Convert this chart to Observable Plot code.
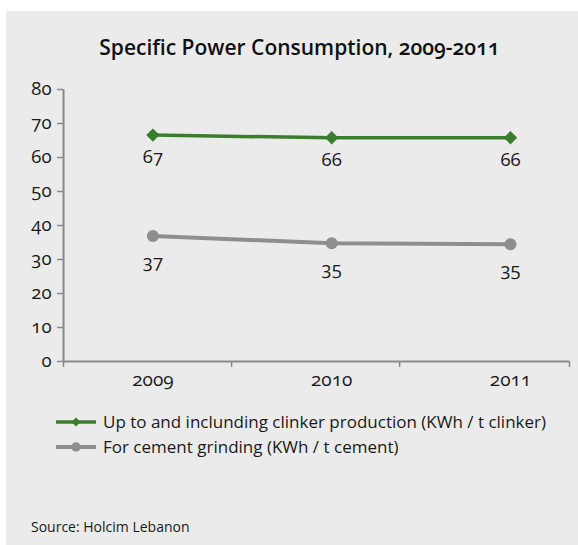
<!DOCTYPE html>
<html>
<head>
<meta charset="utf-8">
<script src="https://cdn.jsdelivr.net/npm/d3@7"></script>
<script src="https://cdn.jsdelivr.net/npm/@observablehq/plot@0.6"></script>
<style>
  html, body { margin: 0; padding: 0; background: #ffffff; }
  body { width: 578px; height: 545px; position: relative; overflow: hidden;
         font-family: "Open Sans", sans-serif; font-variant-numeric: oldstyle-nums; color: #1a1a1a; }
  #panel { position: absolute; left: 6px; top: 11px; width: 572px; height: 534px; background: #ebebeb; }
  #title { position: absolute; left: 0; top: 22px; width: 587px; text-align: center;
           font-size: 21px; font-weight: 600; color: #111; white-space: nowrap; }
  #chart { position: absolute; left: 0; top: 0; }
  #chart svg, #chart svg * { font-variant-numeric: oldstyle-nums !important; font-family: "Open Sans", sans-serif !important; }
  #legend { position: absolute; left: 50px; top: 398px; font-size: 17px; }
  .row { display: flex; align-items: center; height: 25px; white-space: nowrap; }
  .row svg { margin-right: 7px; }
  #source { position: absolute; left: 25px; top: 507px; font-size: 14px; line-height: 18px; color: #1a1a1a; }
</style>
</head>
<body>
<div id="panel">
  <div id="title"></div>
  <div id="chart"></div>
  <div id="legend"></div>
  <div id="source"></div>
</div>
<script>
// ---- data ----
const titleText = "Specific Power Consumption, 2009-2011";
const sourceText = "Source: Holcim Lebanon";
const years = [2009, 2010, 2011];
const seriesNames = [
  "Up to and inclunding clinker production (KWh / t clinker)",
  "For cement grinding (KWh / t cement)"
];
const clinkerValues = [66.6, 65.8, 65.8];
const grindingValues = [36.9, 34.8, 34.5];
const yTicks = [0, 10, 20, 30, 40, 50, 60, 70, 80];
const xDomain = [2008.5, 2011.33];
const xBoundaryTicks = [2008.5, 2009.44, 2010.38, 2011.33];
const seriesColors = ["#3a7d2c", "#8e8e8e"];
const seriesSymbols = ["diamond2", "circle"];

// ---- build ----
const axisColor = "#8a8a8a";
const textColor = "#1a1a1a";
const clinker = years.map((y, i) => ({year: y, value: clinkerValues[i], series: seriesNames[0]}));
const grinding = years.map((y, i) => ({year: y, value: grindingValues[i], series: seriesNames[1]}));

document.getElementById("title").textContent = titleText;
document.getElementById("source").textContent = sourceText;

const chart = Plot.plot({
  width: 572,
  height: 390,
  marginTop: 78,
  marginBottom: 40,
  marginLeft: 57,
  marginRight: 9,
  style: {background: "transparent", fontFamily: "Open Sans, sans-serif", color: textColor},
  x: {type: "linear", domain: xDomain},
  y: {domain: [0, 80]},
  marks: [
    Plot.axisY({ticks: yTicks, tickSize: 6, tickPadding: 6, stroke: axisColor, strokeWidth: 1.5, fill: textColor, fontSize: 18.5, label: null, tickFormat: d => String(d)}),
    Plot.axisX({ticks: xBoundaryTicks, tickSize: 6, stroke: axisColor, strokeWidth: 1.5, tickFormat: () => "", label: null}),
    Plot.axisX({ticks: years, tickSize: 0, tickPadding: 11, fill: textColor, fontSize: 19, tickFormat: d => String(d), label: null}),
    Plot.ruleX([xDomain[0]], {stroke: axisColor, strokeWidth: 2}),
    Plot.ruleY([0], {stroke: axisColor, strokeWidth: 2}),
    Plot.line(grinding, {x: "year", y: "value", stroke: seriesColors[1], strokeWidth: 4}),
    Plot.dot(grinding, {x: "year", y: "value", fill: seriesColors[1], r: 6, symbol: seriesSymbols[1]}),
    Plot.text(grinding, {x: "year", y: "value", text: d => String(Math.round(d.value)), dy: 26, fontSize: 18.5, fill: textColor}),
    Plot.line(clinker, {x: "year", y: "value", stroke: seriesColors[0], strokeWidth: 3.5}),
    Plot.dot(clinker, {x: "year", y: "value", fill: seriesColors[0], r: 6, symbol: seriesSymbols[0]}),
    Plot.text(clinker, {x: "year", y: "value", text: d => String(Math.round(d.value)), dy: 22, fontSize: 18.5, fill: textColor})
  ]
});
document.getElementById("chart").appendChild(chart);

// legend
const legend = document.getElementById("legend");
seriesNames.forEach((name, i) => {
  const row = document.createElement("div");
  row.className = "row";
  const sw = d3.create("svg").attr("width", 40).attr("height", 14);
  sw.append("line").attr("x1", 0).attr("x2", 40).attr("y1", 7).attr("y2", 7)
    .attr("stroke", seriesColors[i]).attr("stroke-width", i === 0 ? 3.5 : 4);
  const sym = seriesSymbols[i] === "circle" ? d3.symbolCircle : d3.symbolDiamond2;
  sw.append("path").attr("d", d3.symbol(sym, i === 0 ? 50 : 70)()).attr("transform", "translate(20,7)")
    .attr("fill", seriesColors[i]);
  row.appendChild(sw.node());
  const t = document.createElement("span");
  t.textContent = name;
  row.appendChild(t);
  legend.appendChild(row);
});
</script>
</body>
</html>
